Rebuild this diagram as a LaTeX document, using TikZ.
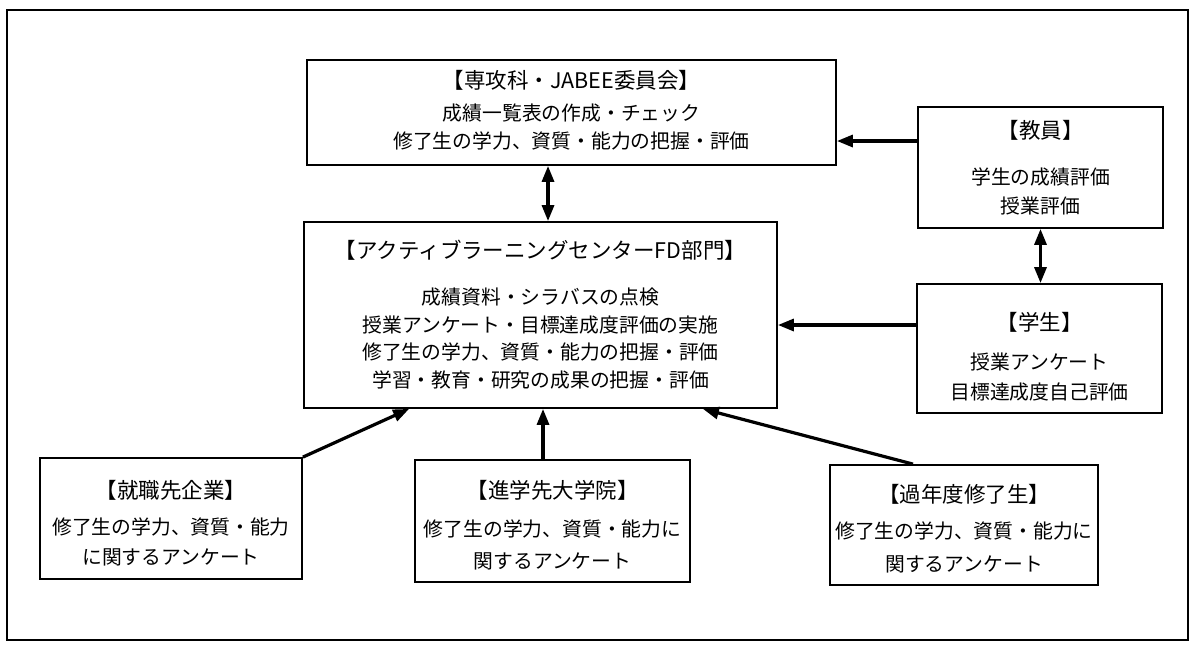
\documentclass[tikz,border=0pt]{standalone}
\usepackage{fontspec}
\setmainfont{Noto Sans CJK JP}
\usetikzlibrary{arrows.meta}
\begin{document}
\begin{tikzpicture}[x=1pt,y=-1pt,
  box/.style={draw,line width=1.8pt,inner sep=0pt},
  ttl/.style={font=\fontsize{21.5}{24}\selectfont,inner sep=0pt},
  txt/.style={font=\fontsize{19.8}{22}\selectfont,inner sep=0pt},
  arr/.style={line width=3.2pt,-{Triangle[length=16pt,width=12pt]}},
  darr/.style={line width=3.2pt,{Triangle[length=16pt,width=12pt]}-{Triangle[length=16pt,width=12pt]}}]
\useasboundingbox (0,0) rectangle (1192,646);
\node[draw,line width=1.6pt,minimum width=1181pt,minimum height=630pt,inner sep=0pt] (frame) at (597.5,325) {};
% boxes
\node[box,minimum width=529pt,minimum height=105pt] (j) at (571.5,112.5) {};
\node[box,minimum width=245pt,minimum height=121pt] (kyo) at (1040.5,167.5) {};
\node[box,minimum width=245pt,minimum height=129pt] (gak) at (1039.5,348.5) {};
\node[box,minimum width=473pt,minimum height=186pt] (c) at (540.5,315) {};
\node[box,minimum width=262pt,minimum height=121pt] (shu) at (171,518.5) {};
\node[box,minimum width=275pt,minimum height=122pt] (shin) at (552.5,521) {};
\node[box,minimum width=268pt,minimum height=120pt] (kan) at (964,525) {};
% texts
\node[ttl] (jt) at (571.5,80) {【専攻科・JABEE委員会】};
\node[txt] (jl1) at (571.5,113) {成績一覧表の作成・チェック};
\node[txt] (jl2) at (571.5,141) {修了生の学力、資質・能力の把握・評価};
\node[ttl] (kt) at (1040.5,130) {【教員】};
\node[txt] (kl1) at (1040.5,177) {学生の成績評価};
\node[txt] (kl2) at (1040.5,206) {授業評価};
\node[ttl] (gt) at (1039.5,322) {【学生】};
\node[txt] (gl1) at (1039.5,362) {授業アンケート};
\node[txt] (gl2) at (1039.5,392) {目標達成度自己評価};
\node[ttl] (ct) at (540.5,250) {【アクティブラーニングセンターFD部門】};
\node[txt] (cl1) at (540.5,297) {成績資料・シラバスの点検};
\node[txt] (cl2) at (540.5,325) {授業アンケート・目標達成度評価の実施};
\node[txt] (cl3) at (540.5,352) {修了生の学力、資質・能力の把握・評価};
\node[txt] (cl4) at (540.5,380) {学習・教育・研究の成果の把握・評価};
\node[ttl] (st) at (171,490) {【就職先企業】};
\node[txt] (sl1) at (171,527) {修了生の学力、資質・能力};
\node[txt] (sl2) at (171,557) {に関するアンケート};
\node[ttl] (nt) at (552.5,490) {【進学先大学院】};
\node[txt] (nl1) at (552.5,529) {修了生の学力、資質・能力に};
\node[txt] (nl2) at (552.5,561) {関するアンケート};
\node[ttl] (at) at (964,494) {【過年度修了生】};
\node[txt] (al1) at (964,531) {修了生の学力、資質・能力に};
\node[txt] (al2) at (964,564) {関するアンケート};
% connectors
\draw[arr] (kyo.west |- jl2) -- (j.east |- jl2);
\draw[darr] ([xshift=-23.5pt]j.south) -- ([xshift=-23.5pt]j.south |- c.north);
\draw[arr] (gak.west |- cl2) -- (c.east |- cl2);
\draw[darr] (kyo.south) -- (kyo.south |- gak.north);
\draw[arr] (shu.north east) -- ([xshift=106pt]c.south west);
\draw[arr] ([xshift=-9.5pt]shin.north) -- ([xshift=-9.5pt]shin.north |- c.south);
\draw[arr] ([xshift=-51pt]kan.north) -- ([xshift=-75pt]c.south east);
\end{tikzpicture}
\end{document}
